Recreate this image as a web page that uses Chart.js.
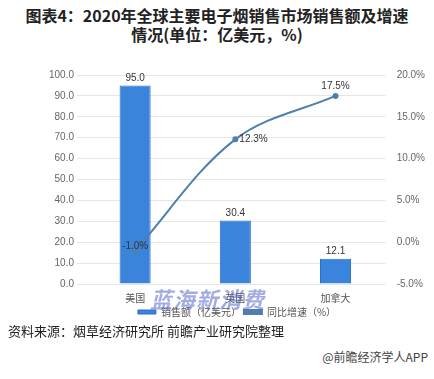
<!DOCTYPE html>
<html>
<head>
<meta charset="utf-8">
<script src="https://cdn.jsdelivr.net/npm/chart.js@4"></script>
<style>
  body { margin: 0; background: #fff; font-family: "Noto Sans CJK SC", "Liberation Sans", sans-serif; }
  #wrap { position: relative; width: 434px; height: 379px; overflow: hidden; }
  #titulo { position: absolute; top: 6px; left: 0; width: 434px; text-align: center;
    font-size: 16px; font-weight: bold; line-height: 19px; color: #222; }
  #fonte { position: absolute; top: 321px; left: 8px; font-size: 13px; color: #222; }
  #app { position: absolute; top: 348px; right: 6px; font-size: 12px; color: #444; }
  #marca { position: absolute; top: 282px; left: 150px; font-size: 22px; font-style: italic;
    font-weight: bold; color: rgba(70, 90, 200, 0.5); letter-spacing: 1px; }
  #grafico { position: absolute; top: 58px; left: 0; width: 434px; height: 269px; }
</style>
</head>
<body>
<div id="wrap">
  <div id="titulo">图表4：2020年全球主要电子烟销售市场销售额及增速<br>情况(单位：亿美元，%)</div>
  <div id="grafico"><canvas id="chart" width="434" height="269"></canvas></div>
  <div id="marca">蓝海新消费</div>
  <div id="fonte">资料来源：烟草经济研究所 前瞻产业研究院整理</div>
  <div id="app">@前瞻经济学人APP</div>
</div>
<script>
// dados
const paises = ["美国", "英国", "加拿大"];
const vendas = [95.0, 30.4, 12.1];
const crescimento = [-1.0, 12.3, 17.5];

const corBarra = "#3a84dc";
const corLinha = "#4f7fae";

// rótulos de valores (barras em cima, linha à direita)
const rotulos = {
  id: "rotulos",
  afterDatasetsDraw(chart) {
    const ctx = chart.ctx;
    ctx.save();
    ctx.font = "10px 'Liberation Sans', sans-serif";
    ctx.fillStyle = "#333";
    chart.getDatasetMeta(0).data.forEach((bar, i) => {
      ctx.textAlign = "center";
      ctx.textBaseline = "bottom";
      ctx.fillText(vendas[i].toFixed(1), bar.x, bar.y - 2);
    });
    chart.getDatasetMeta(1).data.forEach((pt, i) => {
      const txt = crescimento[i].toFixed(1) + "%";
      ctx.textBaseline = "middle";
      if (i === 0) {
        ctx.textAlign = "center";
        ctx.fillText(txt, pt.x, pt.y - 4);
      } else if (i === 2) {
        ctx.textAlign = "center";
        ctx.fillText(txt, pt.x, pt.y - 10);
      } else {
        ctx.textAlign = "left";
        ctx.fillText(txt, pt.x + 4, pt.y);
      }
    });
    ctx.restore();
  },
};

new Chart(document.getElementById("chart").getContext("2d"), {
  type: "bar",
  data: {
    labels: paises,
    datasets: [
      {
        type: "bar",
        label: "销售额（亿美元）",
        data: vendas,
        backgroundColor: corBarra,
        borderColor: "#2a6fc4",
        borderWidth: 1,
        yAxisID: "y",
        barPercentage: 0.31,
        categoryPercentage: 1,
        order: 1,
      },
      {
        type: "line",
        label: "同比增速（%）",
        data: crescimento,
        borderColor: corLinha,
        backgroundColor: corLinha,
        borderWidth: 2,
        pointRadius: 2,
        tension: 0.35,
        yAxisID: "y1",
        order: 0,
      },
    ],
  },
  options: {
    responsive: false,
    animation: false,
    layout: { padding: { left: 46, right: 6, top: 17, bottom: 0 } },
    plugins: {
      legend: {
        position: "bottom",
        labels: {
          boxWidth: 18,
          boxHeight: 4,
          font: { size: 10, family: "'Noto Sans CJK SC'" },
          color: "#555",
          padding: 3,
          sort: (a, b) => a.datasetIndex - b.datasetIndex,
        },
      },
      tooltip: { enabled: false },
    },
    scales: {
      x: {
        grid: { display: false },
        border: { display: false },
        ticks: { color: "#555", padding: 0, font: { size: 10, family: "'Noto Sans CJK SC'" } },
      },
      y: {
        position: "left",
        min: 0,
        max: 100,
        ticks: {
          stepSize: 10,
          color: "#666",
          font: { size: 10 },
          callback: (v) => v.toFixed(1),
        },
        grid: { color: "#e6e6e6" },
        border: { display: false },
      },
      y1: {
        position: "right",
        min: -5,
        max: 20,
        ticks: {
          stepSize: 5,
          color: "#666",
          font: { size: 10 },
          callback: (v) => v.toFixed(1) + "%",
        },
        grid: { display: false },
        border: { display: false },
      },
    },
  },
  plugins: [rotulos],
});
</script>
</body>
</html>
